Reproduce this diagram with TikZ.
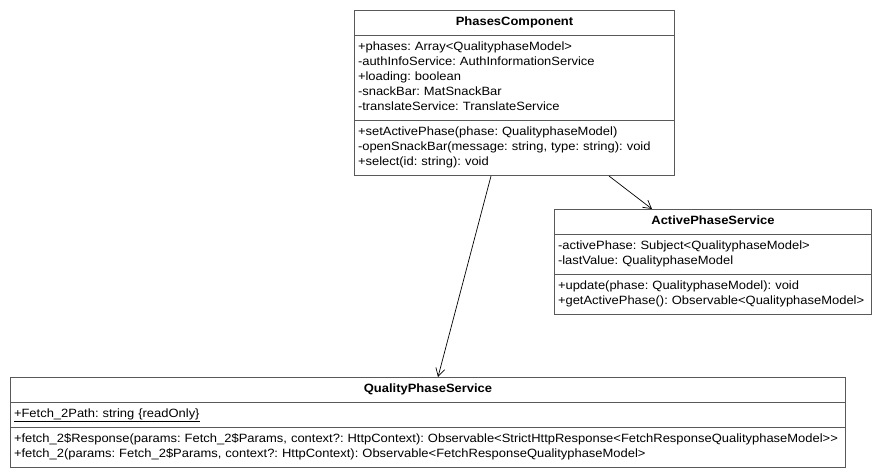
\documentclass[tikz,border=0pt]{standalone}
\usepackage{fontspec}
\setmainfont{Liberation Sans}[FakeStretch=1.08]
\usetikzlibrary{arrows.meta, shapes.multipart}
\newcommand{\umlrow}{\rule[-5.5pt]{0pt}{15pt}}

\begin{document}
\begin{tikzpicture}[x=1pt, y=-1pt,
  umlclass/.style={rectangle split, rectangle split parts=3, draw=black!65, line width=1pt,
                   anchor=north west, align=left, inner xsep=3.5pt, inner ysep=4.5pt,
                   font=\fontsize{12}{15}\selectfont\frenchspacing},
  dep/.style={-{Straight Barb[length=8pt,width=9pt]}, line width=0.7pt}
]
\useasboundingbox (0,0) rectangle (882,474);

\node[umlclass, text width=313pt] (phases) at (354,10) {%
  {\centering\bfseries\umlrow PhasesComponent\par}
  \nodepart{two}
  \umlrow +phases: Array<QualityphaseModel>\\
  \umlrow -authInfoService: AuthInformationService\\
  \umlrow +loading: boolean\\
  \umlrow -snackBar: MatSnackBar\\
  \umlrow -translateService: TranslateService
  \nodepart{three}
  \umlrow +setActivePhase(phase: QualityphaseModel)\\
  \umlrow -openSnackBar(message: string, type: string): void\\
  \umlrow +select(id: string): void};

\node[umlclass, text width=310pt] (active) at (554,209) {%
  {\centering\bfseries\umlrow ActivePhaseService\par}
  \nodepart{two}
  \umlrow -activePhase: Subject<QualityphaseModel>\\
  \umlrow -lastValue: QualityphaseModel
  \nodepart{three}
  \umlrow +update(phase: QualityphaseModel): void\\
  \umlrow +getActivePhase(): Observable<QualityphaseModel>};

\node[umlclass, text width=828pt] (quality) at (10,377) {%
  {\centering\bfseries\umlrow QualityPhaseService\par}
  \nodepart{two}
  \umlrow \underline{+Fetch\_2Path: string \{readOnly\}}
  \nodepart{three}
  \umlrow +fetch\_2\$Response(params: Fetch\_2\$Params, context?: HttpContext): Observable<StrictHttpResponse<FetchResponseQualityphaseModel>{}>\\
  \umlrow +fetch\_2(params: Fetch\_2\$Params, context?: HttpContext): Observable<FetchResponseQualityphaseModel>};

\draw[dep] ([xshift=137pt]phases.south west) -- ([xshift=428pt]quality.north west);
\draw[dep] ([xshift=255pt]phases.south west) -- ([xshift=98pt]active.north west);
\end{tikzpicture}
\end{document}
